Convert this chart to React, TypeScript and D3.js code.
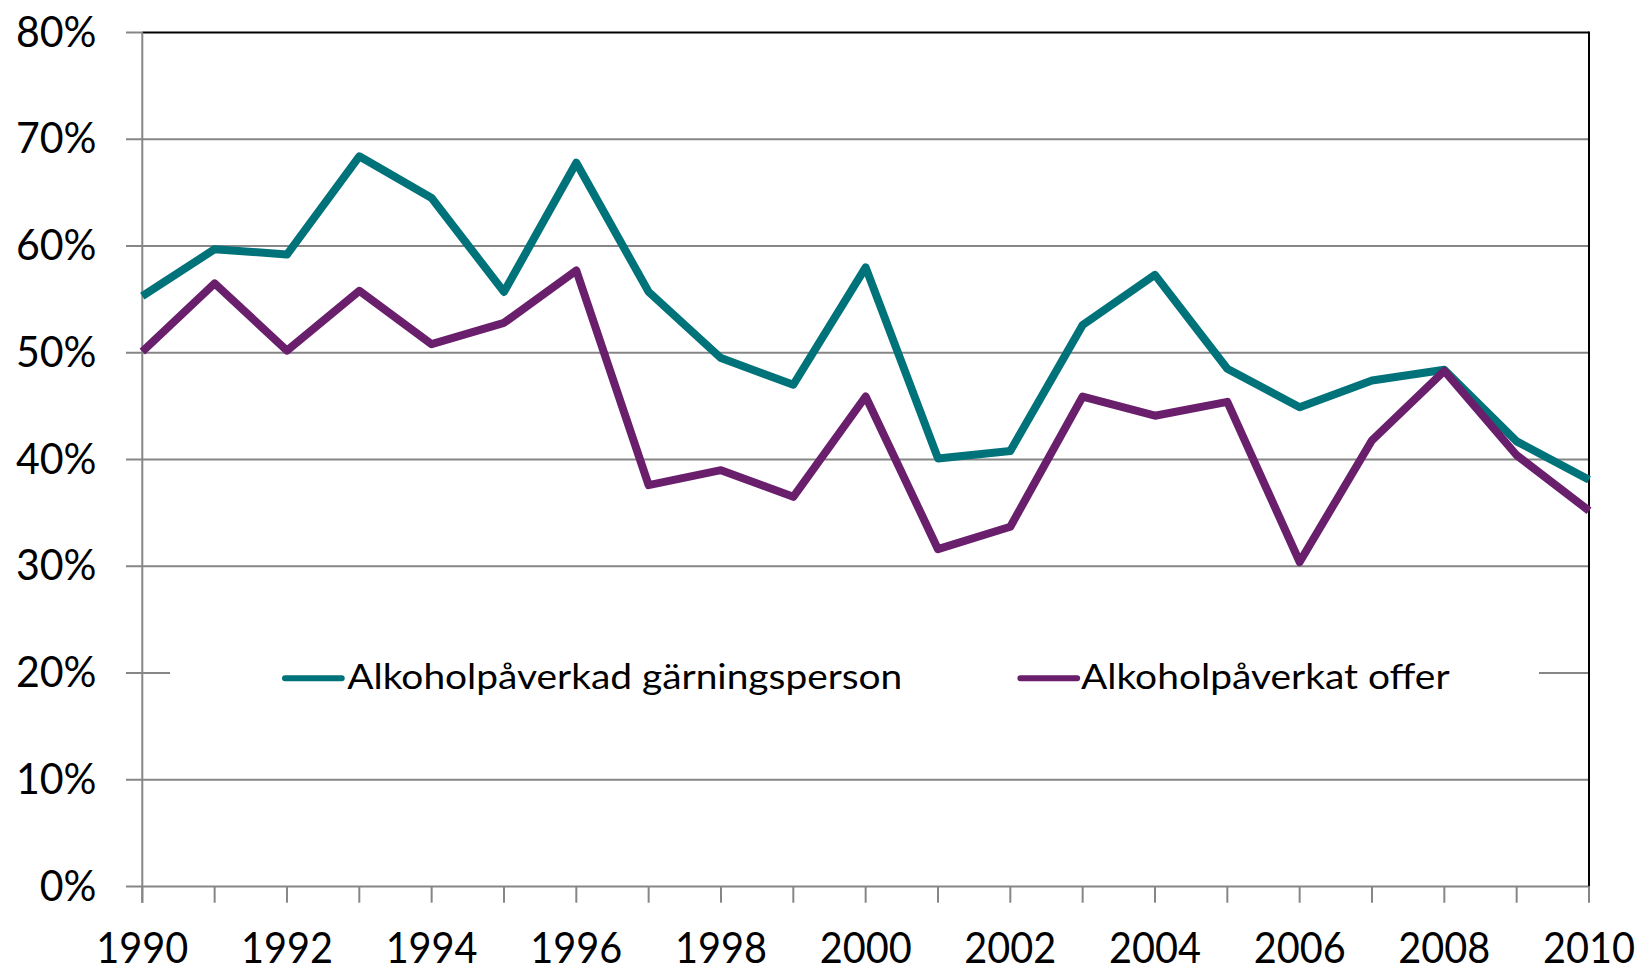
import * as d3 from "d3";

// år och andelar (%)
const years = d3.range(1990, 2011);
const garningsperson = [55.3, 59.7, 59.2, 68.4, 64.5, 55.7, 67.8, 55.7, 49.5, 47.0, 58.0, 40.1, 40.8, 52.6, 57.3, 48.5, 44.9, 47.4, 48.4, 41.7, 38.1];
const offer = [50.1, 56.5, 50.2, 55.8, 50.8, 52.8, 57.7, 37.6, 39.0, 36.5, 45.9, 31.6, 33.7, 45.9, 44.1, 45.4, 30.4, 41.8, 48.3, 40.4, 35.2];
const yTicks = [0, 10, 20, 30, 40, 50, 60, 70, 80];
const xLabels = [1990, 1992, 1994, 1996, 1998, 2000, 2002, 2004, 2006, 2008, 2010];

const series = [
  { name: "Alkoholpåverkad gärningsperson", values: garningsperson, color: "#007279" },
  { name: "Alkoholpåverkat offer", values: offer, color: "#6A1F6D" },
];

const W = 1641;
const H = 968;
const left = 142.3;
const right = 1589;
const top = 32.5;
const bottom = 886.5;
const grid = "#868686";
const font = "Lato, 'Noto Sans', sans-serif";

const App = () => {
  const x = d3.scaleLinear().domain([1990, 2010]).range([left, right]);
  const y = d3.scaleLinear().domain([0, 80]).range([bottom, top]);

  const line = (vals: number[]) =>
    d3
      .line<number>()
      .x((_, i) => x(years[i]))
      .y((d) => y(d))(vals) || "";

  return (
    <svg width={W} height={H} style={{ position: "absolute", left: 0, top: 0, background: "#fff" }}>
      {/* stödlinjer */}
      {yTicks.map((t) => (
        <g key={t}>
          <line x1={left} x2={right} y1={y(t)} y2={y(t)} stroke={t === 80 ? "#000" : grid} strokeWidth={2} />
          <line x1={126} x2={left} y1={y(t)} y2={y(t)} stroke={grid} strokeWidth={2} />
          <text
            x={96.5}
            y={y(t) + 14}
            textAnchor="end"
            fontFamily={font}
            fontSize={43}
            textLength={t === 0 ? 56.7 : 80.6}
            lengthAdjust="spacingAndGlyphs"
          >
            {t}%
          </text>
        </g>
      ))}

      {/* axlar */}
      <line x1={left} x2={left} y1={top} y2={902.7} stroke={grid} strokeWidth={2} />
      <line x1={right} x2={right} y1={top - 1} y2={bottom} stroke="#000" strokeWidth={2} />
      {years.map((yr) => (
        <line key={yr} x1={x(yr)} x2={x(yr)} y1={bottom} y2={902.7} stroke={grid} strokeWidth={2} />
      ))}
      {xLabels.map((yr) => (
        <text
          key={yr}
          x={x(yr)}
          y={962.7}
          textAnchor="middle"
          fontFamily={font}
          fontSize={43}
          textLength={92}
          lengthAdjust="spacingAndGlyphs"
        >
          {yr}
        </text>
      ))}

      {/* legend */}
      <rect x={170} y={640} width={1369} height={70} fill="#fff" />
      {series.map((s, i) => {
        const x0 = i === 0 ? 285 : 1020.4;
        const tx = i === 0 ? 347.3 : 1081;
        const tw = i === 0 ? 555 : 368.6;
        return (
          <g key={s.name}>
            <line x1={x0} x2={x0 + 56.7} y1={678.3} y2={678.3} stroke={s.color} strokeWidth={6} strokeLinecap="round" />
            <text x={tx} y={689.3} fontFamily={font} fontSize={34} textLength={tw} lengthAdjust="spacingAndGlyphs">
              {s.name}
            </text>
          </g>
        );
      })}

      {/* linjer */}
      {series.map((s) => (
        <path key={s.name} d={line(s.values)} fill="none" stroke={s.color} strokeWidth={8} strokeLinejoin="round" />
      ))}
    </svg>
  );
};

export default App;
